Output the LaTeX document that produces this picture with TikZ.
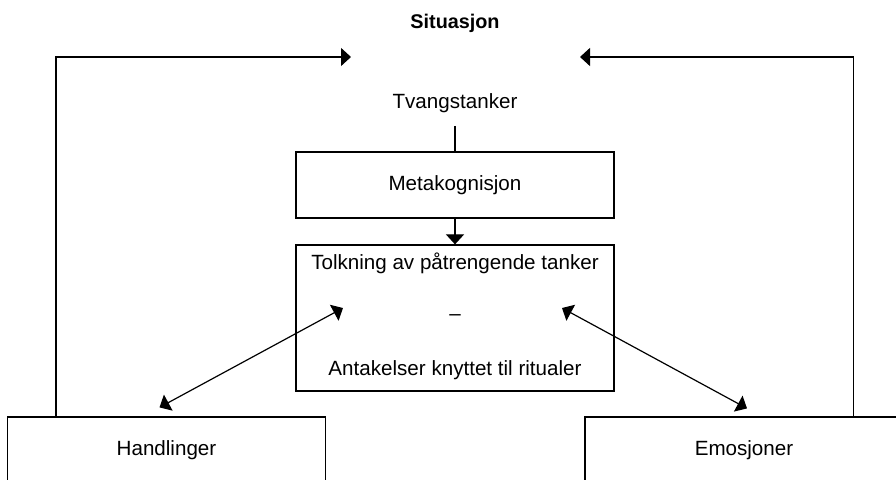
\documentclass[tikz,border=0pt]{standalone}
\usepackage{fontspec}
\setmainfont{Liberation Sans}
\usetikzlibrary{arrows.meta}
\usetikzlibrary{positioning}

\begin{document}
\begin{tikzpicture}[x=0.5pt,y=-0.5pt,-,>={Triangle[length=5pt,width=9pt]},semithick,font=\fontsize{10.3}{12}\selectfont]
	\tikzstyle{box}=[draw, rectangle, inner sep=0pt, minimum width=159pt, minimum height=33pt]
	\useasboundingbox (0,0) rectangle (896,480);
	\clip (0,0) rectangle (896,480);
	\node[font=\bfseries\fontsize{9.9}{12}\selectfont] (sit) at (455,23) {Situasjon};
	\node (tvang) at (455,103) {Tvangstanker};
	\node[box] (meta) at (455,185) {Metakognisjon};
	\node[box, minimum height=73pt] (tolk) at (455,318) {};
	\node (tolkA) at (455,263) {Tolkning av påtrengende tanker};
	\node (strek) at (455,318) {--};
	\node (tolkB) at (455,370) {Antakelser knyttet til ritualer};
	\node[box] (hand) at (166.5,450) {Handlinger};
	\node[box] (emo) at (744,450) {Emosjoner};
	\coordinate (sitL) at (351,57);
	\coordinate (sitR) at (580,57);
	\coordinate (tolkL) at (343,308);
	\coordinate (tolkR) at (562,308);
	\draw[->] ([xshift=24.5pt]hand.north west) |- (sitL);
	\draw[->] ([xshift=-25pt]emo.north east) |- (sitR);
	\draw ([yshift=-3pt]tvang.south) -- (meta);
	\draw[->] (meta) -- (tolk);
	\draw[<->] (tolkL) -- ([xshift=-3.5pt,yshift=4.5pt]hand.north);
	\draw[<->] (tolkR) -- ([xshift=1.5pt,yshift=4pt]emo.north);
	%\draw (hand) -- (emo);
\end{tikzpicture}
\end{document}
